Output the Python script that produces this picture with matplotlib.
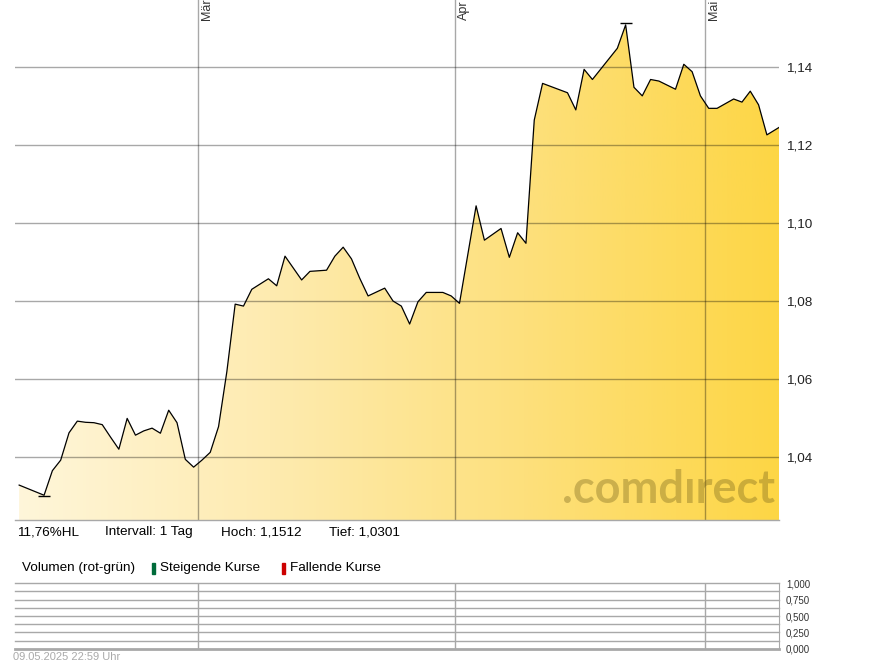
import matplotlib
matplotlib.use('Agg')
import matplotlib.pyplot as plt
import matplotlib.dates as mdates
from matplotlib.colors import LinearSegmentedColormap
from matplotlib.patches import Polygon, Rectangle
import numpy as np
import pandas as pd

plt.rcParams['font.family'] = ['Liberation Sans', 'DejaVu Sans']

# Kursverlauf (Tagespunkte)
dates = ['2025-02-07', '2025-02-10', '2025-02-11', '2025-02-12', '2025-02-13', '2025-02-14',
         '2025-02-15', '2025-02-16', '2025-02-17', '2025-02-18', '2025-02-19', '2025-02-20',
         '2025-02-21', '2025-02-22', '2025-02-23', '2025-02-24', '2025-02-25', '2025-02-26',
         '2025-02-27', '2025-02-28', '2025-03-01', '2025-03-02', '2025-03-03', '2025-03-04',
         '2025-03-05', '2025-03-06', '2025-03-07', '2025-03-09', '2025-03-10', '2025-03-11',
         '2025-03-13', '2025-03-14', '2025-03-16', '2025-03-17', '2025-03-18', '2025-03-19',
         '2025-03-20', '2025-03-21', '2025-03-23', '2025-03-24', '2025-03-25', '2025-03-26',
         '2025-03-27', '2025-03-28', '2025-03-30', '2025-03-31', '2025-04-01', '2025-04-03',
         '2025-04-04', '2025-04-06', '2025-04-07', '2025-04-08', '2025-04-09', '2025-04-10',
         '2025-04-11', '2025-04-14', '2025-04-15', '2025-04-16', '2025-04-17', '2025-04-20',
         '2025-04-21', '2025-04-22', '2025-04-23', '2025-04-24', '2025-04-25', '2025-04-27',
         '2025-04-28', '2025-04-29', '2025-04-30', '2025-05-01', '2025-05-02', '2025-05-04',
         '2025-05-05', '2025-05-06', '2025-05-07', '2025-05-08', '2025-05-09']
close = [1.0328, 1.0302, 1.0365, 1.0392, 1.0462, 1.0492,
         1.0489, 1.0488, 1.0483, 1.0451, 1.0420, 1.0499,
         1.0456, 1.0467, 1.0474, 1.0461, 1.0520, 1.0488,
         1.0394, 1.0374, 1.0392, 1.0412, 1.0478, 1.0619,
         1.0792, 1.0787, 1.0830, 1.0857, 1.0839, 1.0915,
         1.0854, 1.0876, 1.0879, 1.0915, 1.0938, 1.0908,
         1.0858, 1.0813, 1.0833, 1.0800, 1.0787, 1.0741,
         1.0798, 1.0822, 1.0822, 1.0813, 1.0794, 1.1044,
         1.0956, 1.0986, 1.0912, 1.0975, 1.0948, 1.1264,
         1.1358, 1.1334, 1.1290, 1.1394, 1.1368, 1.1448,
         1.1508, 1.1348, 1.1326, 1.1368, 1.1364, 1.1343,
         1.1407, 1.1388, 1.1326, 1.1294, 1.1294, 1.1318,
         1.1310, 1.1338, 1.1303, 1.1226, 1.1245]

hoch, hoch_date = 1.1512, '2025-04-21'
tief, tief_date = 1.0301, '2025-02-10'

y_ticks = [1.04, 1.06, 1.08, 1.10, 1.12, 1.14]
y_labels = ['1,04', '1,06', '1,08', '1,10', '1,12', '1,14']
month_starts = ['2025-03-01', '2025-04-01', '2025-05-01']
month_labels = ['Mär', 'Apr', 'Mai']
vol_ticks = [0.0, 0.25, 0.5, 0.75, 1.0]
vol_labels = ['0,000', '0,250', '0,500', '0,750', '1,000']

x_start, x_end = '2025-02-07', '2025-05-09 22:59'
y_min, y_max = 1.02385, 1.15718

# --- Umrechnung in Datumszahlen ---
half_day = pd.Timedelta(hours=12)
x = mdates.date2num(pd.to_datetime(dates) + half_day)
x0 = mdates.date2num(pd.Timestamp(x_start))
x1 = mdates.date2num(pd.Timestamp(x_end))
x[-1] = x1  # letzter Kurs = Stand 22:59
mx = mdates.date2num(pd.to_datetime(month_starts))
hx = mdates.date2num(pd.Timestamp(hoch_date) + half_day)
tx = mdates.date2num(pd.Timestamp(tief_date) + half_day)

W, H = 895, 669
fig = plt.figure(figsize=(W / 100, H / 100), dpi=100)
ax = fig.add_axes([15 / W, 1 - 520 / H, 764 / W, 520 / H])
axv = fig.add_axes([15 / W, 1 - 648.7 / H, 764 / W, (648.7 - 583.3) / H])

grid_col = '#a8a8a8'

# Flaeche mit Farbverlauf
cmap = LinearSegmentedColormap.from_list('gelb', ['#fff6da', '#feebb0', '#fde07c', '#fdd645'])
grad = np.linspace(0, 1, 256).reshape(1, -1)
im = ax.imshow(grad, extent=[x0, x1, y_min, y_max], aspect='auto', cmap=cmap,
               origin='lower', zorder=1)
verts = [(x[0], y_min)] + list(zip(x, close)) + [(x[-1], y_min)]
poly = Polygon(verts, closed=True, transform=ax.transData, facecolor='none', edgecolor='none')
ax.add_patch(poly)
im.set_clip_path(poly)

for yt in y_ticks:
    ax.axhline(yt, color='black', alpha=0.34, lw=1, zorder=2)
for m in mx:
    ax.axvline(m, color='black', alpha=0.34, lw=1, zorder=2)

ax.plot(x, close, color='black', lw=0.9, zorder=3)
ax.plot([hx], [hoch], marker='_', ms=9, mew=1, color='black', zorder=4)
ax.plot([tx], [tief], marker='_', ms=9, mew=1, color='black', zorder=4)

ax.set_xlim(x0, x1)
ax.set_ylim(y_min, y_max)
ax.set_xticks([])
ax.yaxis.tick_right()
ax.set_yticks(y_ticks, y_labels)
ax.tick_params(axis='y', length=0, pad=5, labelsize=9.7, labelcolor='#222222')
for s in ['top', 'left', 'right']:
    ax.spines[s].set_visible(False)
ax.spines['bottom'].set_color(grid_col)
ax.spines['bottom'].set_linewidth(1)

for m, lbl in zip(mx, month_labels):
    ax.annotate(lbl, xy=(m, 1), xycoords=('data', 'axes fraction'), xytext=(3, -20),
                textcoords='offset pixels', rotation=90, ha='left', va='bottom',
                fontsize=9, color='#333333')

# Wasserzeichen
fig.text(775 / W, 1 - 503 / H, '.comdırect', ha='right', va='baseline', fontsize=32.5,
         family=['Lato', 'DejaVu Sans'], weight='bold', color=(0.45, 0.38, 0.1),
         alpha=0.36, zorder=5)

# Kennzahlen unter dem Chart
fig.text(17 / W, 1 - 532.5 / H, '11,76%HL', va='center', fontsize=9.7)
fig.text(105 / W, 1 - 532.5 / H, 'Intervall: 1 Tag', va='center', fontsize=9.7)
fig.text(221 / W, 1 - 532.5 / H, 'Hoch: 1,1512', va='center', fontsize=9.7)
fig.text(329 / W, 1 - 532.5 / H, 'Tief: 1,0301', va='center', fontsize=9.7)

# Volumen-Legende
fig.text(21.7 / W, 1 - 568 / H, 'Volumen (rot-grün)', va='center', fontsize=9.7)
fig.add_artist(Rectangle((152.3 / W, 1 - 574 / H), 2.8 / W, 11 / H, transform=fig.transFigure,
                         color='#006b3a'))
fig.text(160 / W, 1 - 568 / H, 'Steigende Kurse', va='center', fontsize=9.7)
fig.add_artist(Rectangle((282.3 / W, 1 - 574 / H), 2.8 / W, 11 / H, transform=fig.transFigure,
                         color='#cc0000'))
fig.text(290 / W, 1 - 568 / H, 'Fallende Kurse', va='center', fontsize=9.7)

# Volumen-Panel (leer)
axv.set_xlim(x0, x1)
axv.set_ylim(0, 1)
for yl in np.arange(0, 1.001, 0.125):
    axv.axhline(yl, color=grid_col, lw=2 if yl == 0 else 1, clip_on=False)
for m in mx:
    axv.axvline(m, color=grid_col, lw=1)
axv.set_xticks([])
axv.yaxis.tick_right()
axv.set_yticks(vol_ticks, vol_labels)
axv.tick_params(axis='y', length=0, pad=5, labelsize=7, labelcolor='#333333')
for s in ['top', 'left', 'bottom']:
    axv.spines[s].set_visible(False)
axv.spines['right'].set_color(grid_col)

fig.text(13 / W, 1 - 657.5 / H, '09.05.2025 22:59 Uhr', va='center', fontsize=8, color='#aaaaaa')

fig.savefig('out.png', dpi=100)
